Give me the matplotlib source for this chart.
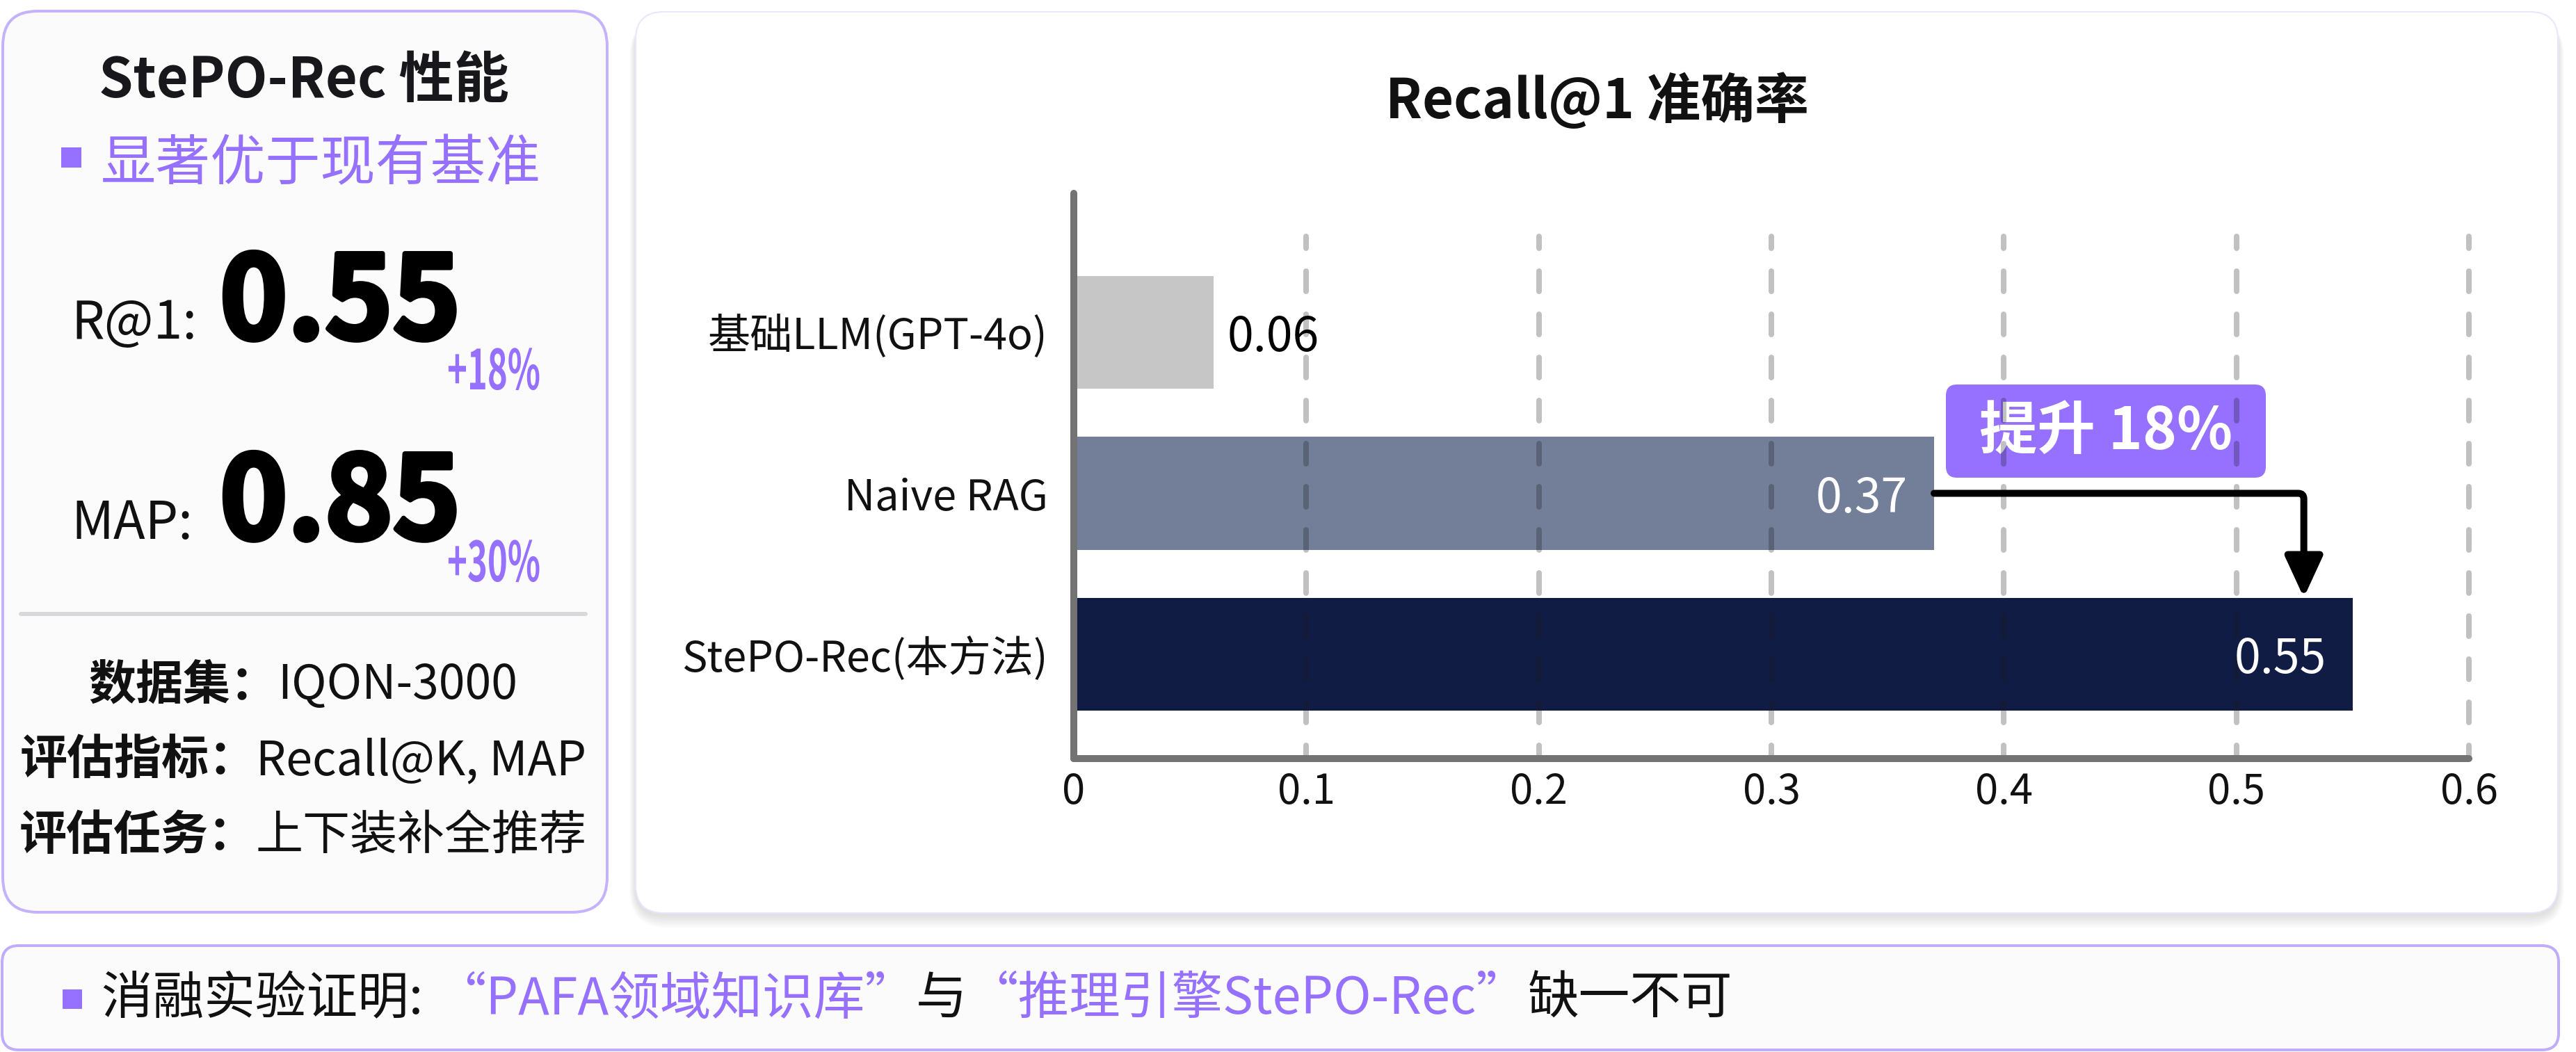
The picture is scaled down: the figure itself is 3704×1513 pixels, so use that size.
import matplotlib
matplotlib.use('Agg')
import matplotlib.pyplot as plt
from matplotlib.patches import FancyBboxPatch, Rectangle
from matplotlib.lines import Line2D
from matplotlib.patheffects import AbstractPathEffect, withStroke
from matplotlib.transforms import Affine2D, Bbox
from matplotlib.text import Text
import numpy as np

plt.rcParams['font.family'] = ['Noto Sans CJK SC', 'DejaVu Sans']
plt.rcParams['lines.scale_dashes'] = False

# ---------------- data ----------------
categories = ['基础LLM(GPT-4o)', 'Naive RAG', 'StePO-Rec(本方法)']
recall_at_1 = [0.06, 0.37, 0.55]
bar_colors = ['#c6c6c6', '#737f99', '#111c44']
x_ticks = [0, 0.1, 0.2, 0.3, 0.4, 0.5, 0.6]
x_tick_labels = ['0', '0.1', '0.2', '0.3', '0.4', '0.5', '0.6']
chart_title = 'Recall@1 准确率'
improvement_label = '提升 18%'

panel_title = 'StePO-Rec 性能'
panel_subtitle = '显著优于现有基准'
metric_names = ['R@1:', 'MAP:']
metric_values = ['0.55', '0.85']
metric_gains = ['+18%', '+30%']
info_keys = ['数据集：', '评估指标：', '评估任务：']
info_values = ['IQON-3000', 'Recall@K, MAP', '上下装补全推荐']
footer_parts = ['消融实验证明: ', '“PAFA领域知识库”', '与', '“推理引擎StePO-Rec”', '缺一不可']
footer_is_accent = [False, True, False, True, False]

# ---------------- layout ----------------
W, H = 3704, 1513
DPI = 100
PURPLE = '#9670ff'


def px(v):
    return v * 72.0 / DPI


class HSqueeze(AbstractPathEffect):
    """Compress glyph outlines horizontally about a fixed x (display px)."""

    def __init__(self, sx, x0):
        super().__init__()
        self.sx = sx
        self.x0 = x0

    def draw_path(self, renderer, gc, tpath, affine, rgbFace=None):
        a = affine + Affine2D().translate(-self.x0, 0).scale(self.sx, 1).translate(self.x0, 0)
        renderer.draw_path(gc, tpath, a, rgbFace)


class CondensedText(Text):
    """Text drawn horizontally condensed; reports its condensed extent."""

    def __init__(self, *args, sx=1.0, x0=0.0, **kwargs):
        super().__init__(*args, **kwargs)
        self._sx = sx
        self._x0 = x0
        if sx < 1.0:
            self.set_path_effects([HSqueeze(sx, x0)])

    def get_window_extent(self, renderer=None, dpi=None):
        bb = super().get_window_extent(renderer, dpi)
        s, x0 = self._sx, self._x0
        return Bbox([[x0 + (bb.x0 - x0) * s, bb.y0], [x0 + (bb.x1 - x0) * s, bb.y1]])


fig = plt.figure(figsize=(W / DPI, H / DPI), dpi=DPI)
fig.patch.set_facecolor('white')
bg = fig.add_axes([0, 0, 1, 1], zorder=0)
bg.set_xlim(0, W)
bg.set_ylim(H, 0)
bg.axis('off')


def rbox(x0, y0, x1, y1, r, fc, ec='none', lw=0, z=1, alpha=1.0):
    p = FancyBboxPatch((x0, y0), x1 - x0, y1 - y0,
                       boxstyle=f'round,pad=0,rounding_size={r}',
                       fc=fc, ec=ec, lw=lw, zorder=z, alpha=alpha)
    bg.add_patch(p)
    return p


# shadow of right panel
for i in range(1, 16):
    rbox(914 - i * 0.6, 17 + 10, 3678 + i * 0.6, 1313 + 4 + i * 1.2, 40 + i,
         fc='black', z=0.5, alpha=0.009)

# panels
rbox(4, 16, 873, 1312, 50, fc='#fbfbfc', ec='#c4b2fc', lw=px(4), z=1)
rbox(914, 17, 3678, 1313, 40, fc='white', ec='#ebe5fb', lw=px(2), z=1)
rbox(3, 1360, 3679, 1510, 24, fc='#fbfbfc', ec='#c0acfc', lw=px(4), z=1)

fig.canvas.draw()
renderer = fig.canvas.get_renderer()

# ---------------- left panel ----------------
bg.text(437, 140, panel_title, ha='center', va='baseline', fontsize=57,
        fontweight='bold', color='#18181c', zorder=3)
bg.add_patch(Rectangle((88, 212), 29, 29, fc=PURPLE, ec='none', zorder=3))
bg.text(145, 259, panel_subtitle, ha='left', va='baseline', fontsize=57,
        color=PURPLE, zorder=3)

metric_baselines = [487, 775]
gain_baselines = [560, 836]
GAIN_RIGHT = 777
GAIN_W = 134
gain_style = dict(ha='right', va='baseline', fontsize=57, fontweight='bold',
                  color=PURPLE, zorder=3)
for name, val, gain, yb, yg in zip(metric_names, metric_values, metric_gains,
                                   metric_baselines, gain_baselines):
    bg.text(102, yb, name, ha='left', va='baseline', fontsize=54,
            color='#111111', zorder=3)
    bg.text(316, yb, val, ha='left', va='baseline', fontsize=119,
            fontweight='heavy', color='black', zorder=3,
            path_effects=[withStroke(linewidth=px(7), foreground='black')])
    probe = Text(GAIN_RIGHT, yg, gain, transform=bg.transData, figure=fig, **gain_style)
    wg = probe.get_window_extent(renderer).width
    sx = min(1.0, GAIN_W / wg)
    tg = CondensedText(GAIN_RIGHT, yg, gain, sx=sx, x0=GAIN_RIGHT, **gain_style)
    bg._add_text(tg)

# divider
bg.add_line(Line2D([30, 842], [883, 883], color='#d9d9dc', lw=px(6),
                   solid_capstyle='round', zorder=3))

info_baselines = [1005, 1114, 1222]
for k, v, yb in zip(info_keys, info_values, info_baselines):
    tk = bg.text(0, yb, k, ha='left', va='baseline', fontsize=49,
                 fontweight='bold', color='#111111', zorder=3)
    tv = bg.text(0, yb, v, ha='left', va='baseline', fontsize=49,
                 color='#111111', zorder=3)
    wk = tk.get_window_extent(renderer).width
    wv = tv.get_window_extent(renderer).width
    x0 = 436 - (wk + wv) / 2
    tk.set_x(x0)
    tv.set_x(x0 + wk)

# ---------------- footer ----------------
bg.add_patch(Rectangle((90, 1423), 28, 28, fc=PURPLE, ec='none', zorder=3))
xcur = 146
for part, acc in zip(footer_parts, footer_is_accent):
    t = bg.text(xcur, 1458, part, ha='left', va='baseline', fontsize=53,
                color=PURPLE if acc else '#111111', zorder=3)
    xcur += t.get_window_extent(renderer).width

# ---------------- chart ----------------
bg.text(2296, 146, chart_title, ha='center', va='center', fontsize=56,
        fontweight='bold', color='#111111', zorder=3)

ax_l, ax_r, ax_t, ax_b = 1544, 3550, 278, 1091
ax = fig.add_axes([ax_l / W, 1 - ax_b / H, (ax_r - ax_l) / W, (ax_b - ax_t) / H],
                  zorder=2)
ax.patch.set_alpha(0)
ypos = np.arange(len(categories))
ax.barh(ypos, recall_at_1, height=0.704, color=bar_colors, zorder=2)
ax.set_xlim(x_ticks[0], x_ticks[-1])
ax.set_ylim(2.648, -0.864)
ax.set_xticks(x_ticks)
ax.set_xticklabels(x_tick_labels)
ax.set_yticks(ypos)
ax.set_yticklabels(categories)
ax.tick_params(axis='both', length=0, colors='#111111')
ax.tick_params(axis='y', labelsize=44, pad=px(37))
ax.tick_params(axis='x', labelsize=43, pad=px(18))
for s in ['top', 'right']:
    ax.spines[s].set_visible(False)
for s in ['left', 'bottom']:
    ax.spines[s].set_color('#737373')
    ax.spines[s].set_linewidth(px(10))
    ax.spines[s].set_capstyle('round')
    ax.spines[s].set_zorder(4)

gtrans = ax.get_xaxis_transform()
for t in x_ticks[1:]:
    ln = Line2D([t, t], [0.924, 0.0], transform=gtrans, color='#1a1a1a',
                alpha=0.27, lw=px(8), dash_capstyle='round', zorder=3,
                clip_on=False)
    ln.set_linestyle((px(12), (px(29), px(33))))
    ax.add_line(ln)

for i, v in enumerate(recall_at_1):
    lab = f'{v:.2f}'
    if i == 0:
        ax.annotate(lab, (v, i), xytext=(px(20), 0), textcoords='offset points',
                    ha='left', va='center_baseline', fontsize=49, color='black',
                    zorder=6)
    else:
        ax.annotate(lab, (v, i), xytext=(-px(38), 0), textcoords='offset points',
                    ha='right', va='center_baseline', fontsize=49, color='white',
                    zorder=6)

corner_x = recall_at_1[2] - 0.021
ax.annotate('', xy=(corner_x, 2 - 0.352), xytext=(recall_at_1[1], 1),
            arrowprops=dict(arrowstyle=f'-|>,head_length={px(50)},head_width={px(23)}',
                            mutation_scale=1,
                            connectionstyle='angle,angleA=0,angleB=90,rad=8',
                            color='black', lw=px(10), shrinkA=0, shrinkB=0),
            zorder=5, annotation_clip=False)

# improvement badge
rbox(2798, 553, 3258, 687, 16, fc=PURPLE, z=3)
bg.text(3028, 621, improvement_label, ha='center', va='center', fontsize=60,
        fontweight='bold', color='white', zorder=4)

fig.savefig('out.png', dpi=DPI, facecolor='white')
